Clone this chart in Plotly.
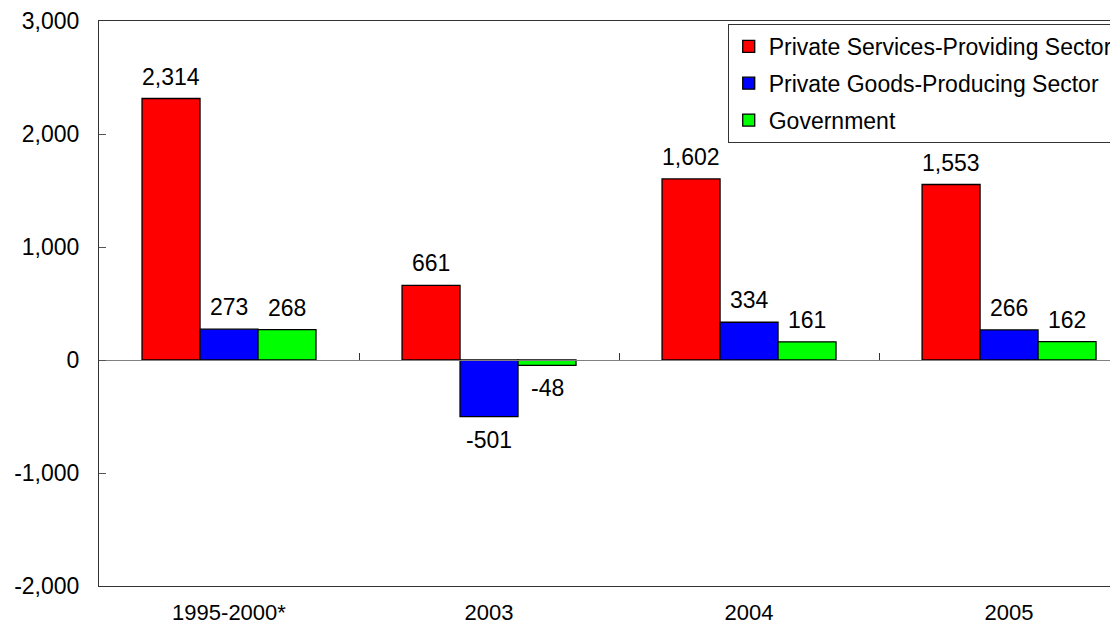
import plotly.graph_objects as go

categories = ["1995-2000*", "2003", "2004", "2005"]
services = [2314, 661, 1602, 1553]
goods = [273, -501, 334, 266]
government = [268, -48, 161, 162]
series_names = ["Private Services-Providing Sector", "Private Goods-Producing Sector", "Government"]
series_colors = ["#FF0000", "#0000FF", "#00FF00"]
y_ticks = [-2000, -1000, 0, 1000, 2000, 3000]

# page body has an 8px margin, so the figure is sized to fit the window
W, H = 1110, 625
ML, MR, MT, MB = 91, 0, 10, 47
x_range = [-0.5, 3.419]
bargap = 0.331
plot_w = W - ML - MR
px_per_cat = plot_w / (x_range[1] - x_range[0])
bar_px = (1 - bargap) / 3 * px_per_cat

FONT = "Liberation Sans, Arial, sans-serif"
FS = 23

fig = go.Figure()
all_series = [services, goods, government]
for i, (vals, name, col) in enumerate(zip(all_series, series_names, series_colors)):
    fig.add_trace(go.Bar(
        x=categories, y=vals, name=name, legendgroup=name,
        marker=dict(color=col, line=dict(color="#000000", width=1.3)),
    ))

# invisible trace to carry the zero-crossing axis
fig.add_trace(go.Scatter(x=categories, y=[0] * len(categories), xaxis="x2", mode="markers",
                         marker=dict(opacity=0), showlegend=False, hoverinfo="skip"))

annotations = []
for i, vals in enumerate(all_series):
    for j, v in enumerate(vals):
        annotations.append(dict(
            x=j, y=v, xref="x", yref="y", text=f"{v:,}", showarrow=False,
            xshift=(i - 1) * bar_px, yshift=22 if v >= 0 else -23,
            font=dict(family=FONT, size=FS, color="#000000"),
        ))

fig.update_layout(
    width=W, height=H,
    margin=dict(l=ML, r=MR, t=MT, b=MB),
    paper_bgcolor="white", plot_bgcolor="white",
    barmode="group", bargap=bargap, bargroupgap=0,
    font=dict(family=FONT, size=FS, color="#000000"),
    showlegend=True,
    legend=dict(
        x=0.617, y=0.995, xanchor="left", yanchor="top",
        bgcolor="white", bordercolor="#333333", borderwidth=1,
        font=dict(family=FONT, size=FS, color="#000000"),
        tracegroupgap=4, traceorder="grouped", itemwidth=30,
    ),
    xaxis=dict(
        type="category", range=x_range, showline=True, mirror=True,
        linecolor="#333333", linewidth=1, ticks="", showgrid=False, zeroline=False,
        tickfont=dict(family=FONT, size=22, color="#000000"), ticklabelstandoff=7,
        ticklabeloverflow="allow",
    ),
    xaxis2=dict(
        type="category", overlaying="x", anchor="free", position=0.4, side="bottom",
        range=x_range, categoryorder="array", categoryarray=categories,
        showline=True, linecolor="#808080", linewidth=1,
        ticks="inside", tickson="boundaries", ticklen=7, tickcolor="#333333",
        showticklabels=False, showgrid=False, zeroline=False,
    ),
    yaxis=dict(
        range=[-2000, 3000], tickvals=y_ticks, ticktext=[f"{v:,}" for v in y_ticks],
        showline=True, linecolor="#333333", linewidth=1,
        ticks="inside", ticklen=7, tickcolor="#555555",
        showgrid=False, zeroline=False,
        tickfont=dict(family=FONT, size=FS, color="#000000"), ticklabelstandoff=14,
        ticklabeloverflow="allow",
    ),
    annotations=annotations,
)

fig.write_html("out.html")
